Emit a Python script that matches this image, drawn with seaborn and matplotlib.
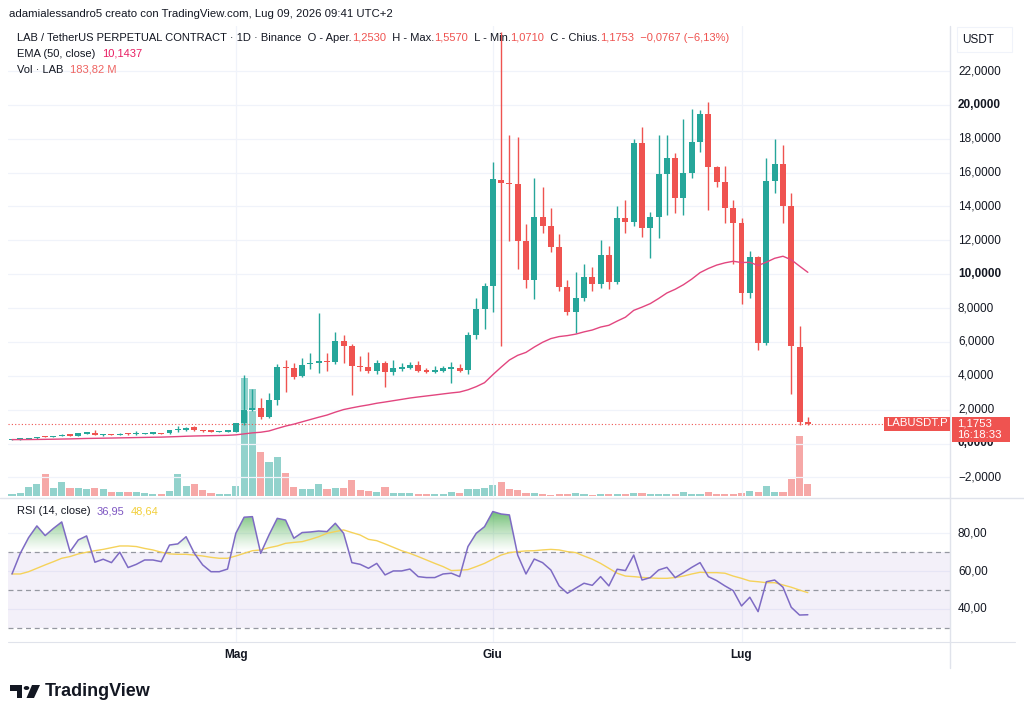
import numpy as np
import pandas as pd
import matplotlib
matplotlib.use("Agg")
import matplotlib.pyplot as plt
import seaborn as sns
import matplotlib.transforms as mtransforms
from matplotlib.path import Path
from matplotlib.patches import PathPatch, Rectangle, Polygon, Circle
from matplotlib.lines import Line2D

# ---------------- data ----------------
opens = [0.20, 0.23, 0.26, 0.30, 0.42, 0.40, 0.44, 0.52, 0.47, 0.58,
         0.62, 0.50, 0.54, 0.52, 0.58, 0.56, 0.56, 0.58, 0.60, 0.60,
         0.78, 0.78, 0.95, 0.76, 0.72, 0.68, 0.70, 0.70, 1.19, 1.98,
         2.10, 1.58, 2.57, 4.54, 4.48, 3.99, 4.68, 4.77, 4.87, 4.83,
         6.05, 5.76, 4.60, 4.54, 4.30, 4.77, 4.24, 4.40, 4.48, 4.62,
         4.30, 4.25, 4.28, 4.42, 4.45, 4.34, 6.41, 7.93, 9.32, 15.56,
         15.40, 15.31, 11.98, 9.66, 13.40, 12.85, 11.59, 9.23, 7.78, 8.58,
         9.85, 9.42, 11.13, 9.56, 13.30, 13.10, 17.77, 12.71, 13.40, 15.92,
         16.88, 14.48, 16.00, 17.83, 19.44, 16.35, 15.43, 13.93, 13.04, 8.87,
         11.03, 5.92, 15.52, 16.51, 14.05, 5.72, 1.2530]
highs = [0.26, 0.27, 0.31, 0.40, 0.46, 0.46, 0.56, 0.55, 0.64, 0.66,
         0.80, 0.56, 0.56, 0.62, 0.62, 0.72, 0.62, 0.62, 0.64, 0.80,
         1.05, 0.95, 1.05, 0.80, 0.74, 0.74, 0.74, 1.22, 4.05, 3.20,
         2.67, 2.96, 4.68, 4.93, 4.74, 5.03, 5.36, 7.73, 5.33, 6.60,
         6.41, 5.90, 5.17, 5.39, 4.95, 4.90, 4.95, 4.75, 4.80, 4.85,
         4.45, 4.55, 4.55, 4.83, 4.70, 6.60, 8.58, 9.46, 16.65, 24.30,
         18.22, 18.12, 12.96, 15.66, 15.17, 13.93, 12.40, 9.66, 10.11, 10.58,
         10.40, 12.02, 11.68, 14.05, 14.38, 17.97, 18.71, 13.69, 18.22, 18.22,
         17.14, 19.15, 19.74, 19.70, 20.19, 16.39, 16.39, 14.40, 13.30, 11.37,
         11.10, 16.85, 17.97, 17.63, 14.78, 6.94, 1.5570]
lows = [0.18, 0.21, 0.24, 0.28, 0.38, 0.38, 0.42, 0.44, 0.45, 0.55,
        0.48, 0.46, 0.49, 0.50, 0.53, 0.50, 0.54, 0.56, 0.54, 0.58,
        0.66, 0.74, 0.76, 0.68, 0.68, 0.66, 0.68, 0.66, 1.09, 1.90,
        1.43, 1.50, 2.27, 3.06, 3.81, 3.90, 4.40, 4.15, 4.30, 4.70,
        4.77, 2.86, 4.30, 4.15, 4.10, 3.32, 4.05, 4.28, 4.40, 4.25,
        4.18, 4.15, 4.25, 3.56, 4.20, 4.10, 6.20, 6.75, 7.75, 5.76,
        11.96, 10.29, 9.20, 8.52, 12.45, 11.30, 9.00, 7.59, 6.55, 8.40,
        9.00, 9.20, 9.15, 9.40, 12.45, 12.87, 12.21, 10.98, 12.12, 13.50,
        13.60, 13.50, 15.70, 17.24, 13.79, 15.13, 13.00, 10.60, 8.24, 8.60,
        5.52, 5.82, 14.78, 13.04, 2.92, 1.09, 1.0710]
closes = [0.23, 0.26, 0.30, 0.38, 0.40, 0.44, 0.52, 0.47, 0.60, 0.62,
          0.50, 0.52, 0.51, 0.58, 0.55, 0.60, 0.58, 0.60, 0.57, 0.78,
          0.80, 0.92, 0.78, 0.72, 0.70, 0.70, 0.72, 1.19, 1.98, 2.10,
          1.58, 2.57, 4.54, 4.46, 3.95, 4.64, 4.77, 4.87, 4.80, 6.05,
          5.76, 4.58, 4.50, 4.28, 4.74, 4.24, 4.44, 4.50, 4.64, 4.30,
          4.25, 4.30, 4.45, 4.45, 4.30, 6.41, 7.93, 9.32, 15.60, 15.40,
          15.30, 11.98, 9.66, 13.40, 12.85, 11.59, 9.23, 7.78, 8.58, 9.85,
          9.42, 11.13, 9.56, 13.30, 13.10, 17.77, 12.71, 13.40, 15.92, 16.88,
          14.48, 16.00, 17.83, 19.44, 16.35, 15.43, 13.93, 13.04, 8.87, 11.03,
          5.92, 15.52, 16.51, 14.05, 5.76, 1.2530, 1.1753]
volumes_m = [25, 50, 130, 180, 330, 125, 210, 125, 125, 100,
             125, 105, 60, 60, 60, 65, 45, 35, 35, 75,
             330, 150, 175, 90, 45, 35, 30, 150, 1770, 1605,
             660, 510, 585, 345, 135, 105, 105, 180, 105, 120,
             120, 240, 90, 80, 65, 140, 50, 40, 40, 30,
             30, 30, 30, 60, 40, 100, 100, 115, 165, 205,
             110, 95, 50, 50, 25, 20, 25, 35, 45, 30,
             20, 25, 25, 35, 25, 45, 45, 35, 35, 35,
             25, 55, 35, 25, 55, 25, 35, 35, 45, 75,
             60, 145, 60, 60, 260, 895, 183.82]
rsi_vals = [58.5, 69.4, 77.7, 83.9, 78.8, 82.6, 86.0, 70.3, 76.5, 78.6,
            64.7, 66.3, 64.5, 70.0, 61.9, 63.6, 65.9, 65.9, 65.0, 73.8,
            74.4, 78.2, 69.4, 63.3, 59.7, 59.7, 61.1, 80.0, 88.5, 88.8,
            69.4, 79.1, 87.9, 87.0, 77.4, 80.4, 80.7, 81.2, 80.9, 85.3,
            80.0, 64.5, 63.6, 61.5, 64.1, 58.0, 60.1, 60.1, 61.1, 57.1,
            56.6, 56.6, 58.5, 58.9, 57.1, 73.0, 80.0, 83.5, 91.5, 90.2,
            89.7, 68.5, 58.5, 66.4, 64.5, 60.6, 52.2, 48.3, 51.0, 53.6,
            52.5, 57.1, 52.2, 61.0, 60.3, 68.5, 55.3, 56.6, 60.6, 62.0,
            56.6, 59.2, 62.0, 64.5, 57.1, 55.0, 52.2, 49.7, 41.6, 46.2,
            38.6, 54.4, 55.3, 51.5, 40.9, 36.8, 36.95]
rsi_ma_vals = [58.5, 58.5, 59.7, 61.5, 63.3, 65.0, 66.8, 67.7, 69.1, 70.0,
               70.8, 71.5, 72.4, 73.3, 73.3, 73.0, 72.0, 71.2, 70.0, 69.1,
               68.9, 68.9, 68.5, 68.0, 67.3, 66.8, 66.8, 68.0, 69.4, 70.8,
               71.2, 72.4, 73.3, 74.7, 75.2, 75.6, 76.8, 78.2, 80.0, 80.9,
               81.8, 80.4, 79.1, 76.8, 76.1, 74.4, 72.6, 70.8, 69.4, 67.7,
               65.9, 64.1, 62.4, 60.3, 60.5, 60.8, 62.4, 64.1, 66.3, 68.5,
               69.8, 70.3, 70.7, 70.8, 71.2, 71.5, 71.2, 70.3, 69.8, 68.0,
               66.3, 64.1, 61.5, 58.9, 57.4, 57.1, 56.7, 56.4, 56.2, 56.2,
               56.6, 57.4, 58.5, 59.4, 59.2, 59.2, 58.9, 57.4, 56.2, 54.8,
               54.4, 53.9, 53.9, 52.7, 51.5, 50.0, 48.64]
month_labels = ["Mag", "Giu", "Lug"]
month_index = [27, 58, 88]          # bar index of May 1, Jun 1, Jul 1
price_ticks = [22, 20, 18, 16, 14, 12, 10, 8, 6, 4, 2, 0, -2]
bold_ticks = [20, 10, 0]
rsi_ticks = [80, 60, 40]
last_price = 1.1753

# ---------------- styling ----------------
sns.set_theme(style="white")
plt.rcParams["font.family"] = ["Liberation Sans", "DejaVu Sans"]

UP = "#26a69a"
DN = "#ef5350"
TXT = "#131722"
GRID = "#f0f3fa"
SEP = "#e0e3eb"

W, H = 1024, 720
fig = plt.figure(figsize=(W / 100, H / 100), dpi=100)
fig.patch.set_facecolor("white")


def fx(p):
    return p / W


def fy(p):
    return 1 - p / H


LPX, RPX = 8, 950
ax = fig.add_axes([fx(LPX), fy(497), (RPX - LPX) / W, (497 - 26) / H])
vax = ax.twinx()
rax = fig.add_axes([fx(LPX), fy(642), (RPX - LPX) / W, (642 - 499) / H])
ax.set_zorder(vax.get_zorder() + 1)
ax.patch.set_visible(False)

df = pd.DataFrame({"o": opens, "h": highs, "l": lows, "c": closes,
                   "v": volumes_m})
df["i"] = np.arange(len(df))
df["up"] = df["c"] >= df["o"]
df["col"] = np.where(df["up"], UP, DN)
df["ema"] = df["c"].ewm(span=50, adjust=False).mean()

XMIN, XMAX = -0.4825, 113.15

# grid lines
for t in price_ticks:
    ax.axhline(t, color=GRID, lw=0.9, zorder=0)
for m in month_index:
    ax.axvline(m, color=GRID, lw=0.9, zorder=0)
    rax.axvline(m, color=GRID, lw=0.9, zorder=0)
for t in rsi_ticks:
    rax.axhline(t, color=GRID, lw=0.9, zorder=0)

# volume
vcols = [(0.149, 0.651, 0.604, 0.5) if u else (0.937, 0.325, 0.314, 0.5)
         for u in df["up"]]
vax.bar(df["i"], df["v"], width=0.86, color=vcols, linewidth=0)
vax.set_ylim(-15, 471 * 15)

# candles
ax.vlines(df["i"], df["l"], df["h"], colors=df["col"], lw=1.0, zorder=2)
body_bottom = np.minimum(df["o"], df["c"])
body_h = np.maximum(np.abs(df["c"] - df["o"]), 0.07)
ax.bar(df["i"], body_h, bottom=body_bottom, width=0.72, color=df["col"],
       linewidth=0, zorder=3)

# EMA
sns.lineplot(x=df["i"], y=df["ema"], ax=ax, color="#e2467f", lw=1.0,
             zorder=4, legend=False)
ax.axhline(last_price, color=DN, lw=0.8, ls=(0, (1, 2)), zorder=1)

ax.set_xlim(XMIN, XMAX)
ax.set_ylim((443.5 - 497) / 16.93, (443.5 - 26) / 16.93)
vax.set_xlim(XMIN, XMAX)

# RSI pane
rsi = np.array(rsi_vals)
idx = np.arange(len(rsi))
rax.axhspan(30, 70, color="#7e57c2", alpha=0.085, lw=0, zorder=0)
for lev in (70, 50, 30):
    rax.axhline(lev, color="#9598a1", lw=0.9, ls=(0, (4, 3)), zorder=1)
coll = rax.fill_between(idx, rsi, 70, where=rsi >= 70, interpolate=True,
                        facecolor="none", edgecolor="none")
paths = coll.get_paths()
if paths:
    cp = Path.make_compound_path(*paths)
    patch = PathPatch(cp, transform=rax.transData, facecolor="none",
                      edgecolor="none")
    rax.add_patch(patch)
    n = 256
    grad = np.zeros((n, 1, 4))
    grad[:, 0, 0] = 76 / 255
    grad[:, 0, 1] = 175 / 255
    grad[:, 0, 2] = 80 / 255
    grad[:, 0, 3] = np.linspace(0.85, 0.0, n) ** 1.2
    im = rax.imshow(grad, extent=[XMIN, XMAX, 70, 92], aspect="auto",
                    origin="upper", zorder=2, interpolation="bilinear")
    im.set_clip_path(patch)
sns.lineplot(x=idx, y=np.array(rsi_ma_vals), ax=rax, color="#f5d25a",
             lw=1.0, zorder=3, legend=False)
sns.lineplot(x=idx, y=rsi, ax=rax, color="#7e6bc4", lw=1.1, zorder=4,
             legend=False)
rax.set_xlim(XMIN, XMAX)
rax.set_ylim(80 - (642 - 533.3) / 1.892, 80 + (533.3 - 499) / 1.892)

for a in (ax, vax, rax):
    a.set_xticks([])
    a.set_yticks([])
    a.set_xlabel("")
    a.set_ylabel("")
    for s in a.spines.values():
        s.set_visible(False)

# right price scale
bt = mtransforms.blended_transform_factory(fig.transFigure, ax.transData)
for t in price_ticks:
    lab = f"{abs(t):.4f}".replace(".", ",")
    if t < 0:
        lab = "\u2212" + lab
    ax.text(fx(958), t, lab, transform=bt, ha="left", va="center",
            fontsize=8.5, color=TXT, clip_on=False,
            fontweight="bold" if t in bold_ticks else "normal")
rbt = mtransforms.blended_transform_factory(fig.transFigure, rax.transData)
for t in rsi_ticks:
    rax.text(fx(958), t, f"{t:.2f}".replace(".", ","), transform=rbt,
             ha="left", va="center", fontsize=8.5, color=TXT, clip_on=False)

# month labels
mbt = mtransforms.blended_transform_factory(rax.transData, fig.transFigure)
for lab, m in zip(month_labels, month_index):
    rax.text(m, fy(655), lab, transform=mbt, ha="center", va="center",
             fontsize=8.5, fontweight="bold", color=TXT, clip_on=False)

# separators
fig.add_artist(Line2D([fx(RPX), fx(RPX)], [fy(26), fy(668)], color=SEP,
                      lw=1, transform=fig.transFigure))
fig.add_artist(Line2D([fx(0), fx(1024)], [fy(498), fy(498)], color=SEP,
                      lw=1, transform=fig.transFigure))
fig.add_artist(Line2D([fx(8), fx(1015)], [fy(641.5), fy(641.5)], color=SEP,
                      lw=0.8, transform=fig.transFigure))

# USDT box
fig.add_artist(Rectangle((fx(957), fy(52)), 55 / W, 25 / H,
                         transform=fig.transFigure, facecolor="white",
                         edgecolor="#f0f3fa", lw=0.8))
fig.text(fx(962), fy(40), "USDT", ha="left", va="center", fontsize=8.5,
         color=TXT)

# last price labels (drawn above the axes)
fig.add_artist(Rectangle((fx(952), fy(442)), 58 / W, 25.5 / H,
                         transform=fig.transFigure, facecolor=DN,
                         edgecolor="none", zorder=10))
fig.text(fx(957), fy(423), "1,1753", ha="left", va="center", fontsize=8.2,
         color="white", zorder=11)
fig.text(fx(957), fy(435.5), "16:18:33", ha="left", va="center",
         fontsize=8.2, color="white", zorder=11)
fig.add_artist(Rectangle((fx(884), fy(430.5)), 66 / W, 14 / H,
                         transform=fig.transFigure, facecolor=DN,
                         edgecolor="none", zorder=10))
fig.text(fx(917), fy(423.5), "LABUSDT.P", ha="center", va="center",
         fontsize=8.2, color="white", zorder=11)


def chain(x, y, parts, size=8.0):
    t = fig.text(x, y, parts[0][0], color=parts[0][1], fontsize=size,
                 ha="left", va="center")
    for s, c in parts[1:]:
        t = ax.annotate(s, xy=(1, 0.5), xycoords=t, xytext=(0, 0),
                        textcoords="offset points", color=c, fontsize=size,
                        ha="left", va="center", annotation_clip=False)
    return t


chain(fx(9), fy(14), [("adamialessandro5 creato con TradingView.com, "
                       "Lug 09, 2026 09:41 UTC+2", TXT)], size=8.2)
chain(fx(17), fy(38), [
    ("LAB / TetherUS PERPETUAL CONTRACT \u00b7 1D \u00b7 Binance  O - Aper.", TXT),
    ("1,2530", DN), ("  H - Max.", TXT), ("1,5570", DN),
    ("  L - Min.", TXT), ("1,0710", DN), ("  C - Chius.", TXT),
    ("1,1753", DN), ("  \u22120,0767 (\u22126,13%)", DN)])
chain(fx(17), fy(54), [("EMA (50, close)  ", TXT), ("10,1437", "#e91e63")])
chain(fx(17), fy(70), [("Vol \u00b7 LAB  ", TXT), ("183,82 M", "#ef6461")])
chain(fx(17), fy(511), [("RSI (14, close)  ", TXT), ("36,95", "#7e57c2"),
                        ("  ", TXT), ("48,64", "#f2cf3a")])

# TradingView logo
fig.add_artist(Polygon([(fx(10), fy(685)), (fx(22), fy(685)), (fx(22), fy(698)),
                        (fx(16.5), fy(698)), (fx(16.5), fy(690.5)),
                        (fx(10), fy(690.5))], closed=True,
                       transform=fig.transFigure, facecolor=TXT,
                       edgecolor="none"))
fig.add_artist(Circle((fx(26.5), fy(688)), 2.8 / W, transform=fig.transFigure,
                      facecolor=TXT, edgecolor="none"))
fig.add_artist(Polygon([(fx(32), fy(685)), (fx(40), fy(685)), (fx(34), fy(698)),
                        (fx(26.5), fy(698))], closed=True,
                       transform=fig.transFigure, facecolor=TXT,
                       edgecolor="none"))
fig.text(fx(45), fy(692), "TradingView", ha="left", va="center",
         fontsize=13, fontweight="bold", color=TXT)

fig.savefig("out.png", dpi=100, facecolor="white")
